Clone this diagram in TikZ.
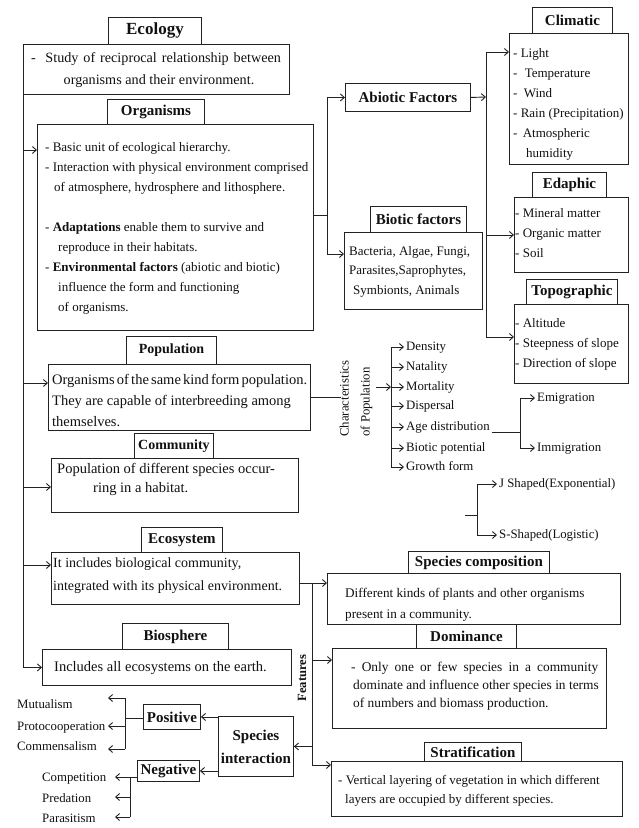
\documentclass[tikz,border=0pt]{standalone}
\usepackage{fontspec}
\setmainfont{Liberation Serif}
\usetikzlibrary{arrows.meta,calc}
\setlength{\parindent}{0pt}
\definecolor{lc}{HTML}{222222}
\definecolor{tc}{HTML}{111111}
\newcommand\fsz[2]{\fontsize{#1}{#2}\selectfont}
\newcommand\tbl[1]{\begin{tabular}[t]{@{}l@{}}#1\end{tabular}}
\newcommand\tbc[1]{\begin{tabular}[t]{@{}c@{}}#1\end{tabular}}
\begin{document}
\begin{tikzpicture}[x=1pt,y=-1pt,
  wh/.style 2 args={minimum width=#1pt, minimum height=#2pt},
  bx/.style={draw=lc, line width=0.9pt, anchor=north west, inner sep=0pt},
  ttl/.style={bx, font=\bfseries\fsz{15}{18}, text=tc},
  txt/.style={anchor=base west, inner sep=0pt, text=tc},
  leaf/.style={anchor=base west, inner xsep=2pt, inner ysep=0pt, text height=9pt, text depth=3pt, font=\fsz{12.8}{15}, text=tc},
  ln/.style={draw=lc, line width=0.9pt},
  arr/.style={ln, -{Straight Barb[length=4pt,width=7pt,line width=0.9pt]}},
]
\useasboundingbox[fill=white] (0,0) rectangle (638,828);

% ---------- Ecology ----------
\node[ttl, wh={93}{27}, font=\bfseries\fsz{17}{20}] (ecoT) at (108,17) {Ecology};
\node[bx, wh={266}{50}] (ecoD) at (23,44) {};
\node[txt, anchor=base, font=\fsz{14.2}{22}] (ecoDt) at (156,62) {\tbc{\makebox[250pt][s]{- \ Study of reciprocal relationship between}\\\hspace*{6pt}organisms and their environment.}};

% ---------- Organisms ----------
\node[ttl, wh={97}{25}] (orgT) at (107,99) {Organisms};
\node[bx, wh={276}{206}] (orgD) at (37,124) {};
\node[txt, font=\fsz{13}{20}] (orgDt) at (45,151) {\tbl{- Basic unit of ecological hierarchy.\\
- Interaction with physical environment comprised\\
\hspace*{9pt}of atmosphere, hydrosphere and lithosphere.\\
\\
- \textbf{Adaptations} enable them to survive and\\
\hspace*{13pt}reproduce in their habitats.\\
- \textbf{Environmental factors} (abiotic and biotic)\\
\hspace*{13pt}influence the form and functioning\\
\hspace*{13pt}of organisms.}};

% ---------- Abiotic / Biotic ----------
\node[ttl, wh={125}{28}] (abT) at (345,83) {Abiotic Factors};
\node[ttl, wh={96}{26}] (bioT) at (370,206) {Biotic factors};
\node[bx, wh={138}{77}] (bioD) at (344,232) {};
\node[txt, font=\fsz{13}{19.5}] (bioDt) at (349,255) {\tbl{Bacteria, Algae, Fungi,\\Parasites,Saprophytes,\\\hspace*{4pt}Symbionts, Animals}};

% ---------- Climatic / Edaphic / Topographic ----------
\node[ttl, wh={80}{26}] (climT) at (532,7) {Climatic};
\node[bx, wh={119}{131}] (climD) at (509,33) {};
\node[txt, font=\fsz{13}{20}] (climDt) at (513,57) {\tbl{- Light\\- \hspace*{4pt}Temperature\\- \hspace*{3pt}Wind\\- Rain (Precipitation)\\- \hspace*{2pt}Atmospheric\\\hspace*{13pt}humidity}};
\node[ttl, wh={74}{25}] (edT) at (532,172) {Edaphic};
\node[bx, wh={114}{75}] (edD) at (514,197) {};
\node[txt, font=\fsz{13}{20}] (edDt) at (515,217) {\tbl{- Mineral matter\\- Organic matter\\- Soil}};
\node[ttl, wh={91}{25}] (topT) at (526,279) {Topographic};
\node[bx, wh={114}{79}] (topD) at (514,304) {};
\node[txt, font=\fsz{13}{20}] (topDt) at (515,327) {\tbl{- Altitude\\- Steepness of slope\\- Direction of slope}};

% ---------- Population ----------
\node[ttl, wh={90}{28}, font=\bfseries\fsz{14}{17}] (popT) at (126,336) {Population};
\node[bx, wh={262}{66}] (popD) at (48,364) {};
\node[txt, font=\fsz{14.5}{21}] (popDt) at (52,384) {\tbl{{\spaceskip=2.2pt\relax Organisms of the same kind form population.}\\They are capable of interbreeding among\\themselves.}};

% ---------- Community ----------
\node[ttl, wh={79}{25}, font=\bfseries\fsz{14}{17}] (comT) at (134,433) {Community};
\node[bx, wh={247}{54}] (comD) at (51,458) {};
\node[txt, font=\fsz{14.5}{19}] (comDt) at (57,473) {\tbl{Population of different species occur-\\\hspace*{36pt}ring in a habitat.}};

% ---------- Ecosystem ----------
\node[ttl, wh={81}{25}] (ecsT) at (141,527) {Ecosystem};
\node[bx, wh={248}{52}] (ecsD) at (51,552) {};
\node[txt, font=\fsz{14}{23}] (ecsDt) at (53,567) {\tbl{It includes biological community,\\integrated with its physical environment.}};

% ---------- Biosphere ----------
\node[ttl, wh={106}{26}] (biosT) at (122,623) {Biosphere};
\node[bx, wh={249}{36}] (biosD) at (42,649) {};
\node[txt, font=\fsz{14.5}{18}] (biosDt) at (54,671) {Includes all ecosystems on the earth.};

% ---------- Features ----------
\node[ttl, wh={141}{22}] (scT) at (408,551) {Species composition};
\node[bx, wh={293}{51}] (scD) at (327,573) {};
\node[txt, font=\fsz{13.2}{21}] (scDt) at (345,597) {\tbl{Different kinds of plants and other organisms\\present in a community.}};
\node[ttl, wh={100}{24}] (domT) at (416,624) {Dominance};
\node[bx, wh={274}{80}] (domD) at (332,648) {};
\node[txt, font=\fsz{13.4}{18}] (domDt) at (351,671) {\tbl{\makebox[247pt][s]{- Only one or few species in a community}\\\hspace*{2pt}dominate and influence other species in terms\\\hspace*{2pt}of numbers and biomass production.}};
\node[ttl, wh={97}{19}] (stT) at (424,742) {Stratification};
\node[bx, wh={291}{55}] (stD) at (331,761) {};
\node[txt, font=\fsz{13}{19}] (stDt) at (338,784) {\tbl{- Vertical layering of vegetation in which different\\\hspace*{7pt}layers are occupied by different species.}};
\node[anchor=center, inner sep=0pt, text=tc, font=\bfseries\fsz{12.6}{15}] (feat) at (302,678) {\rotatebox{90}{Features}};

% ---------- Species interaction ----------
\node[ttl, wh={75}{60}, align=center, font=\bfseries\fsz{15}{23}] (siB) at (218,716) {Species\\interaction};
\node[ttl, wh={57}{25}] (posB) at (143,704) {Positive};
\node[ttl, wh={62}{21}] (negB) at (137,760) {Negative};
\node[leaf, inner xsep=0pt] (mut) at (17,708) {Mutualism};
\node[leaf, inner xsep=0pt] (pro) at (17,730) {Protocooperation};
\node[leaf, inner xsep=0pt] (com) at (17,750) {Commensalism};
\node[leaf, inner xsep=0pt] (cmp) at (42,781) {Competition};
\node[leaf, inner xsep=0pt] (pre) at (42,802) {Predation};
\node[leaf, inner xsep=0pt] (par) at (42,822) {Parasitism};

% ---------- Characteristics of population ----------
\node[anchor=south east, inner sep=0pt, text=tc, font=\fsz{12.8}{21}] (char) at (376,437) {\rotatebox{90}{\tbl{Characteristics\\of Population}}};
\node[leaf] (dens) at (404,350) {Density};
\node[leaf] (nat) at (404,370) {Natality};
\node[leaf] (mort) at (404,390) {Mortality};
\node[leaf] (disp) at (404,409) {Dispersal};
\node[leaf] (age) at (404,430) {Age distribution};
\node[leaf] (biot) at (404,451) {Biotic potential};
\node[leaf] (grow) at (404,470) {Growth form};
\node[leaf] (emig) at (535,401) {Emigration};
\node[leaf] (immig) at (535,451) {Immigration};
\node[leaf] (jsh) at (497,487) {J Shaped(Exponential)};
\node[leaf] (ssh) at (497,538) {S-Shaped(Logistic)};

% ---------- coordinates ----------
\coordinate (pOrg) at ([yshift=-26pt]orgD.north west);
\coordinate (pPop) at ([yshift=-19pt]popD.north west);
\coordinate (pCom) at ([yshift=-29pt]comD.north west);
\coordinate (pEcs) at ([yshift=-13pt]ecsD.north west);
\coordinate (oj) at (327,215);
\coordinate (pBio) at ([yshift=-22pt]bioD.north west);
\coordinate (rj) at (486,97);
\coordinate (pClim) at ([yshift=-19pt]climD.north west);
\coordinate (pTop) at ([yshift=-33pt]topD.north west);
\coordinate (cj) at (391,386);
\coordinate (ej) at (520,432);
\coordinate (gj) at (477,515);
\coordinate (fj) at (312,583);
\coordinate (pDom) at ([yshift=-12pt]domD.north west);
\coordinate (pSt) at ([yshift=-4pt]stD.north west);
\coordinate (pj) at (125,718);
\coordinate (pa1) at (108,698);
\coordinate (pa2) at (108,726);
\coordinate (pa3) at (108,749);
\coordinate (nj) at (130,777);
\coordinate (na1) at (115,777);
\coordinate (na2) at (115,797);
\coordinate (na3) at (115,817);

% ---------- connectors ----------
% main trunk
\draw[arr] (ecoD.south west) |- (biosD.west);
\draw[arr] (ecoD.south west |- pOrg) -- (pOrg);
\draw[arr] (ecoD.south west |- pPop) -- (pPop);
\draw[arr] (ecoD.south west |- pCom) -- (pCom);
\draw[arr] (ecoD.south west |- pEcs) -- (pEcs);
% organisms -> factors
\draw[ln] (oj -| orgD.east) -- (oj);
\draw[arr] (oj) |- (abT.west);
\draw[arr] (oj) |- (pBio);
% abiotic -> types
\draw[arr] (abT.east) -- (rj);
\draw[ln] (rj |- pClim) -- (rj |- pTop);
\draw[arr] (rj |- pClim) -- (pClim);
\draw[arr] (rj |- edD.west) -- (edD.west);
\draw[arr] (rj |- pTop) -- (pTop);
% population -> characteristics
\draw[ln] (popD.east) -- ++(30,0);
\draw[arr] (char.east |- mort.west) -- (cj |- mort.west);
\draw[ln] (cj |- dens.west) -- (cj |- grow.west);
\foreach \n in {dens,nat,mort,disp,age,biot,grow}
  \draw[arr] (cj |- \n.west) -- (\n.west);
\draw[ln] (age.east |- ej) -- (ej);
\draw[arr] (ej) |- (emig.west);
\draw[arr] (ej) |- (immig.west);
\draw[ln] ([xshift=-12pt]gj) -- (gj);
\draw[arr] (gj) |- (jsh.west);
\draw[arr] (gj) |- (ssh.west);
% ecosystem -> features
\draw[arr] (ecsD.east |- fj) -- (fj -| scD.west);
\draw[ln] (fj) -- (fj |- pSt);
\draw[arr] (fj |- pDom) -- (pDom);
\draw[arr] (fj |- pSt) -- (pSt);
\draw[arr] (fj |- siB.east) -- (siB.east);
% species interaction
\draw[arr] (siB.west |- posB.east) -- (posB.east);
\draw[arr] (siB.west |- negB.east) -- (negB.east);
\draw[ln] (posB.west |- pj) -- (pj);
\draw[ln] (pj |- pa1) -- (pj |- pa3);
\draw[arr] (pj |- pa1) -- (pa1);
\draw[arr] (pj |- pa2) -- (pa2);
\draw[arr] (pj |- pa3) -- (pa3);
\draw[ln] (negB.west |- nj) -- (nj);
\draw[ln] (nj) -- (nj |- na3);
\draw[arr] (nj) -- (na1);
\draw[arr] (nj |- na2) -- (na2);
\draw[arr] (nj |- na3) -- (na3);
\end{tikzpicture}
\end{document}
